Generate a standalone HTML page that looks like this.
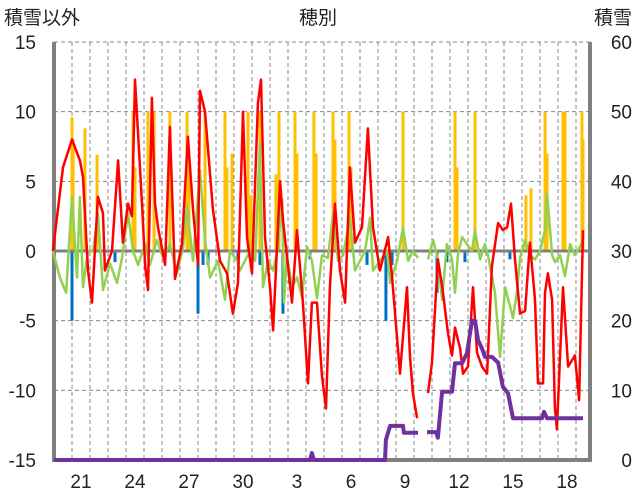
<!DOCTYPE html>
<html><head><meta charset="utf-8"><style>
body{margin:0;background:#fff;}
svg{display:block;font-family:"Liberation Sans","Noto Sans CJK JP",sans-serif;}
</style></head><body>
<svg id="chart" width="636" height="501">
<text x="4" y="24" font-size="19" fill="#222">積雪以外</text>
<text x="318" y="24" font-size="19" fill="#222" text-anchor="middle">穂別</text>
<text x="632" y="24" font-size="19" fill="#222" text-anchor="end">積雪</text>
<g id="grid"></g><g id="bars"></g><g id="axes"></g><g id="lines"></g>
</svg>
<script>
const leftTicks=[-15,-10,-5,0,5,10,15];
const rightTicks=[0,10,20,30,40,50,60];
const dayLabels=["21","24","27","30","3","6","9","12","15","18"];
const dayLabelPos=[2,5,8,11,14,17,20,23,26,29];
const redT=[-0.06,0.5,1.0,1.44,1.61,1.89,2.11,2.44,2.72,2.83,3.22,3.56,3.83,4.11,4.33,4.5,4.89,5.06,5.22,5.44,5.61,5.78,6.17,6.44,6.72,7.11,7.44,7.72,8.0,8.11,8.39,8.83,9.22,9.61,9.94,10.22,10.5,10.72,11.0,11.33,11.5,11.72,12.0,12.17,12.56,12.72,13.22,13.5,13.83,14.11,14.33,14.61,14.89,15.11,15.33,15.61,15.89,16.17,16.44,16.72,17.11,17.44,17.72,18.11,18.56,18.78,19.22,19.61,19.78,19.94,20.17,20.4,20.78,21.0,21.33,21.56,21.89,22.11,22.28,22.56,22.72,23.0,23.28,23.5,23.78,24.06,24.33,24.67,24.94,25.17,25.39,25.61,25.89,26.17,26.44,26.72,26.89,27.17,27.28,27.44,27.67,27.83,27.94,28.28,28.56,28.94,29.17,29.39];
const redV=[0,6,8,6.5,5.3,-1.4,-3.7,3.9,2.7,-1.4,0,6.5,0.6,3.4,2.5,12.3,3.4,-1,-2.8,11,3.4,1.7,-1,8.9,-2,0.5,8.2,3,-1,11.5,10,3,-0.7,-1.6,-4.5,-2.3,10,1,-1.6,10.6,12.3,1,-2.6,-5.7,5,2.2,-3.7,1.5,-3.7,-9.5,-3.7,-3.7,-9,-11.3,-2.6,3.4,-1.4,-3.7,6,0.6,1.7,8.8,1.7,-1.4,1,-1.8,-8.8,-2.6,-7.6,-10.2,-12,null,-10.2,-8,-0.6,-2.5,-5.9,-7.5,-5.5,-7,-8.8,-8.3,-2.6,-7.3,-8.3,-8.8,-1.1,2,1.5,1.7,3.4,-0.6,-4.5,-4.3,0.6,-3.5,-9.5,-9.5,-3,-1.6,-3.5,-11.2,-12.8,-2.6,-8.3,-7.5,-10.7,1.5];
const greenT=[-0.06,0.33,0.67,1.0,1.28,1.44,1.61,1.89,2.17,2.44,2.72,3.11,3.5,3.78,4.11,4.39,4.67,5.06,5.33,5.72,6.06,6.44,6.83,7.17,7.39,7.72,8.11,8.39,8.67,9.11,9.5,9.78,10.17,10.33,10.89,11.17,11.44,11.61,11.89,12.17,12.44,12.67,12.78,12.94,13.22,13.5,13.78,14.06,14.33,14.61,14.89,15.22,15.5,15.78,16.06,16.44,16.72,17.0,17.28,17.56,17.72,18.11,18.5,18.67,19.06,19.39,19.67,19.94,20.22,20.5,20.78,21.06,21.33,21.56,21.83,22.11,22.28,22.44,22.67,22.94,23.22,23.39,23.67,23.94,24.11,24.5,24.78,25.06,25.22,25.5,25.72,25.89,26.17,26.44,26.72,27.0,27.28,27.39,27.67,27.83,28.11,28.39,28.67,28.94,29.22,29.39];
const greenV=[0,-1.9,-3,3.9,-1.9,3.9,-2.6,0,0,2.7,-2.8,-0.9,-2.3,-0.5,2.7,0,-1,0.5,-1,0.8,-0.5,0.5,-1.6,0.3,3.2,-0.7,5.8,0.8,-1.9,-0.7,-3.5,0,-0.7,-1.4,0,-0.7,7.8,-2.6,-0.7,-1.4,0.2,3.7,-3.7,-0.3,-2.6,-1.9,-3.3,0.3,-0.7,-3.4,-0.3,-0.5,2.7,-0.7,-0.3,2.4,-1.4,-0.7,0,2.4,-1.4,-0.7,0,-2.3,-0.7,1.7,-0.7,0,-0.5,null,-0.6,0.8,-0.6,-3.5,0.5,-0.6,-3,-0.3,1,0.5,0,1.5,-0.6,0.5,-0.3,-3,-7.6,-2.6,-3.4,-4.8,-2.9,-0.5,0.8,-0.3,-0.6,0,1.5,4.2,-0.3,-0.8,-0.3,-1.8,0.5,-0.3,0.3,0.8];
const orangeT=[1.0,1.06,1.72,2.39,4.39,4.5,5.22,5.56,6.44,7.39,7.5,8.39,9.5,9.61,9.89,10.78,10.94,11.44,12.33,12.5,13.39,13.5,14.44,14.56,15.5,15.61,16.39,16.5,19.39,22.28,22.39,23.39,26.22,26.5,27.28,27.39,28.28,28.39,29.33,29.39];
const orangeV=[9.6,8,8.8,6.9,10,6,10,10,10,10,7,10,10,6,7,10,4,10,5.5,10,10,7,10,7,10,8,10,6,10,10,6,10,4,4.5,10,7,10,10,10,8];
const blueT=[1.0,3.39,8.0,8.28,8.56,10.22,11.44,12.72,14.22,17.39,18.44,18.78,21.28,21.83,22.83,25.33];
const blueV=[-5,-0.8,-4.5,-1,-1,-0.8,-1,-4.5,-0.6,-1,-5,-1,-3,-0.8,-0.8,-0.6];
const purpleT=[0,14.22,14.33,14.44,18.39,18.44,18.67,19.39,19.44,20.22,20.5,20.72,21.22,21.33,21.56,22.11,22.28,22.67,22.94,23.22,23.39,23.56,23.78,23.94,24.33,24.67,24.94,25.22,25.5,27.11,27.22,27.39,29.39];
const purpleV=[0,0,1,0,0,2.9,4.9,4.9,3.9,3.9,null,4,4,3.2,9.8,9.8,13.9,13.9,15.3,20,20,17.2,16,14.8,14.8,14,10.5,9.6,6,6,6.9,6,6];

const X0=54,X1=590,Y0=42,Y1=460,DAY=18;
const xs=t=>X0+t*DAY;
const yL=v=>Y1-(v+15)/30*(Y1-Y0);
const yR=v=>Y1-v/60*(Y1-Y0);
const NS="http://www.w3.org/2000/svg";
function mk(tag,attrs,parent){const e=document.createElementNS(NS,tag);for(const k in attrs)e.setAttribute(k,attrs[k]);document.getElementById(parent).appendChild(e);return e;}
for(let d=1;d<=29;d++){const x=xs(d);if(x>=X1)break;
 const g=mk('line',{x1:x,x2:x,y1:Y0,y2:Y1,stroke:'#888','stroke-width':1,'stroke-dasharray':'4,3'},'grid');
 
 }
leftTicks.forEach(v=>{const y=yL(v);
 if(v!==0&&v!==-15){const g=mk('line',{x1:X0,x2:X1,y1:y,y2:y,stroke:'#888','stroke-width':1,'stroke-dasharray':'4,3'},'grid');
 
 }
 const t=mk('text',{x:36,y:y+7,'font-size':19,'text-anchor':'end',fill:'#222'},'axes');t.textContent=v;
 
 });
rightTicks.forEach(v=>{const t=mk('text',{x:632,y:yR(v)+7,'font-size':19,'text-anchor':'end',fill:'#222'},'axes');t.textContent=v;
 
 });
dayLabels.forEach((s,i)=>{const t=mk('text',{x:xs(dayLabelPos[i]-0.5),y:488,'font-size':19,'text-anchor':'middle',fill:'#222'},'axes');t.textContent=s;
 
 });
orangeT.forEach((t,i)=>{const y=yL(orangeV[i]);const r=mk('rect',{x:xs(t)-1.5,y:y,width:3,height:yL(0)-y,fill:'#FFC000'},'bars');
 
 });
blueT.forEach((t,i)=>{const y=yL(blueV[i]);const r=mk('rect',{x:xs(t)-1.5,y:yL(0),width:3,height:y-yL(0),fill:'#0070C0'},'bars');
 
 });
const z=mk('line',{x1:X0,x2:X1,y1:yL(0),y2:yL(0),stroke:'#808080','stroke-width':3},'bars');


const fr=mk('path',{d:`M${X0},${Y0}V${Y1}H${X1}V${Y0}`,fill:'none',stroke:'#808080','stroke-width':4},'axes');


function path(T,V,yf){let d='',pen=false;T.forEach((t,i)=>{if(V[i]===null){pen=false;return;}d+=(pen?'L':'M')+xs(t).toFixed(1)+','+yf(V[i]).toFixed(1);pen=true;});return d;}
const gp=mk('path',{d:path(greenT,greenV,yL),fill:'none',stroke:'#92D050','stroke-width':2.5,'stroke-linejoin':'round'},'lines');


const rp=mk('path',{d:path(redT,redV,yL),fill:'none',stroke:'#FF0000','stroke-width':2.5,'stroke-linejoin':'round'},'lines');


const pp=mk('path',{d:path(purpleT,purpleV,yR),fill:'none',stroke:'#7030A0','stroke-width':4,'stroke-linejoin':'round'},'lines');


</script>
</body></html>
